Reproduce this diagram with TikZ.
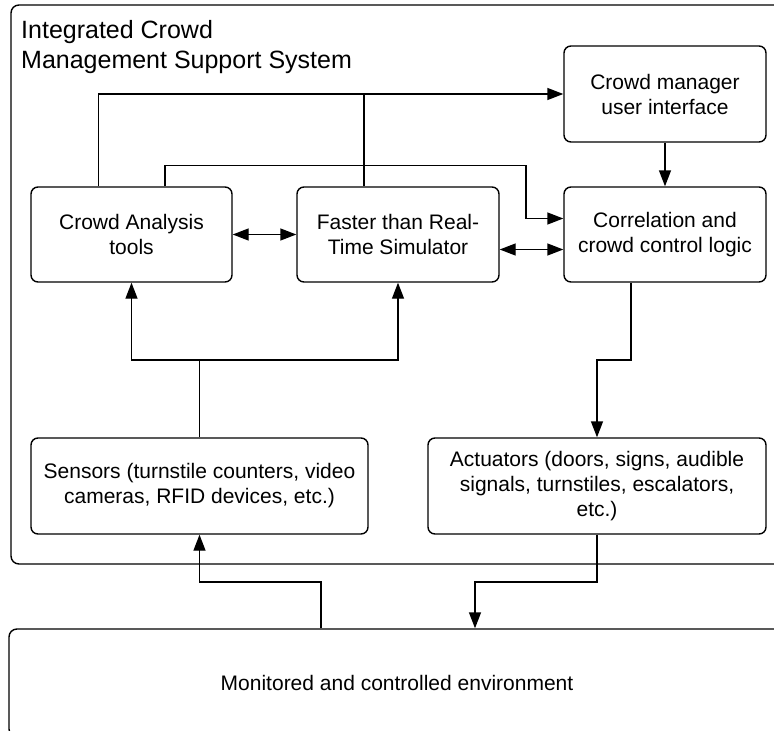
\documentclass[tikz,border=0pt]{standalone}
\usepackage{fontspec}
\setmainfont{Liberation Sans}
\usetikzlibrary{arrows.meta}
\begin{document}
\begin{tikzpicture}[x=1pt,y=-1pt,
  box/.style={draw, line width=1.4pt, rounded corners=7pt, inner sep=0pt, align=center,
    font=\fontsize{21}{25}\selectfont},
  conn/.style={line width=1.4pt},
  arr/.style={conn, -{Triangle[length=16pt,width=12pt]}},
  darr/.style={conn, {Triangle[length=16pt,width=12pt]}-{Triangle[length=16pt,width=12pt]}}]
\useasboundingbox (0,0) rectangle (774,731);
\begin{scope}
\clip (0,0) rectangle (774,731);
\node[box, minimum width=774pt, minimum height=559pt, rounded corners=8pt] (sys) at (398,284.5) {};
\node[box, minimum width=776pt, minimum height=108pt, rounded corners=8pt] (env) at (397,683) {Monitored and controlled environment};
\end{scope}
\node[anchor=base west, inner sep=0pt, align=left, font=\fontsize{25}{30}\selectfont] (title) at (21,68.3) {Integrated Crowd\\Management Support System};
\node[box, minimum width=202pt, minimum height=96pt] (ui) at (665,94) {Crowd manager\\user interface};
\node[box, minimum width=201pt, minimum height=95pt] (ca) at (131.5,234.5) {Crowd Analysis\\tools};
\node[box, minimum width=202pt, minimum height=95pt] (sim) at (398,234.5) {Faster than Real-\\Time Simulator};
\node[box, minimum width=202pt, minimum height=95pt] (corr) at (665,234.5) {Correlation and\\crowd control logic};
\node[box, minimum width=337pt, minimum height=96pt] (sen) at (199.5,486) {Sensors (turnstile counters, video\\cameras, RFID devices, etc.)};
\node[box, minimum width=338pt, minimum height=96pt] (act) at (597,486) {Actuators (doors, signs, audible\\signals, turnstiles, escalators,\\etc.)};
\coordinate (j1) at (526,165.7);
\coordinate (bus) at (199.5,360);
\coordinate (j3) at (597,360);
\coordinate (j4) at (475,582);
\coordinate (j5) at (321,582);
\draw[arr] ([xshift=-33pt]ca.north) |- (ui.west);
\draw[conn] ([xshift=-34pt]sim.north) -- ([xshift=-34pt]sim.north |- ui.west);
\draw[arr] ([xshift=33.5pt]ca.north) |- (j1) |- ([yshift=16pt]corr.west);
\draw[darr] (ca) -- (sim);
\draw[darr] ([yshift=-15pt]sim.east) -- ([yshift=-15pt]corr.west);
\draw[arr] (ui) -- (corr);
\draw[conn] (sen.north) -- (bus);
\draw[arr] (bus) -| (ca.south);
\draw[arr] (bus) -| (sim.south);
\draw[arr] ([xshift=-34pt]corr.south) |- (j3) -- (act.north);
\draw[arr] (act.south) |- (j4) -- (j4 |- env.north);
\draw[arr] (j5 |- env.north) -- (j5) -| (sen.south);
\end{tikzpicture}
\end{document}
